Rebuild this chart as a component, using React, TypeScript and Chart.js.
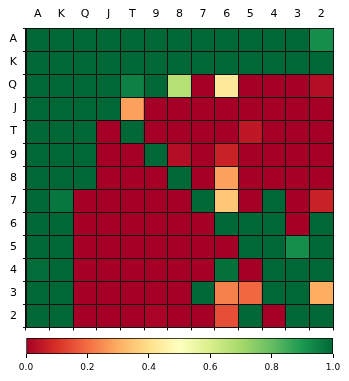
import React, { useEffect, useRef } from "react";
import { Chart, registerables } from "chart.js";

Chart.register(...registerables);

const colLabels = ["A", "K", "Q", "J", "T", "9", "8", "7", "6", "5", "4", "3", "2"];
const rowLabels = ["A", "K", "Q", "J", "T", "9", "8", "7", "6", "5", "4", "3", "2"];

const rowA = [1, 1, 1, 1, 1, 1, 1, 1, 1, 1, 1, 1, 0.92];
const rowK = [1, 1, 1, 1, 1, 1, 1, 1, 1, 1, 1, 1, 1];
const rowQ = [1, 1, 1, 1, 0.95, 1, 0.67, 0, 0.43, 0, 0, 0, 0.03];
const rowJ = [1, 1, 1, 1, 0.28, 0, 0, 0, 0, 0, 0, 0, 0];
const rowT = [1, 1, 1, 0, 1, 0, 0, 0, 0, 0.05, 0, 0, 0];
const row9 = [1, 1, 1, 0, 0, 1, 0.03, 0, 0.07, 0, 0, 0, 0];
const row8 = [1, 1, 1, 0, 0, 0, 1, 0, 0.28, 0, 0, 0, 0];
const row7 = [1, 0.97, 0, 0, 0, 0, 0, 1, 0.35, 0, 1, 0, 0.07];
const row6 = [1, 1, 0, 0, 0, 0, 0, 0, 1, 1, 1, 0, 1];
const row5 = [1, 1, 0, 0, 0, 0, 0, 0, 0, 1, 1, 0.92, 1];
const row4 = [0.99, 1, 0, 0, 0, 0, 0, 0, 0.98, 0, 1, 1, 1];
const row3 = [1, 1, 0, 0, 0, 0, 0, 1, 0.23, 0.19, 1, 1, 0.3];
const row2 = [1, 1, 0, 0, 0, 0.01, 0, 0, 0.15, 1, 0, 1, 1];

const matrix = [rowA, rowK, rowQ, rowJ, rowT, row9, row8, row7, row6, row5, row4, row3, row2];

const colorbarTicks = [0, 0.2, 0.4, 0.6, 0.8, 1.0];

const RDYLGN = [
  "#a50026", "#d73027", "#f46d43", "#fdae61", "#fee08b", "#ffffbf",
  "#d9ef8b", "#a6d96a", "#66bd63", "#1a9850", "#006837",
];

function hexToRgb(h: string) {
  return [parseInt(h.slice(1, 3), 16), parseInt(h.slice(3, 5), 16), parseInt(h.slice(5, 7), 16)];
}

function cmap(v: number) {
  const t = Math.max(0, Math.min(1, v)) * (RDYLGN.length - 1);
  const i = Math.min(Math.floor(t), RDYLGN.length - 2);
  const f = t - i;
  const a = hexToRgb(RDYLGN[i]);
  const b = hexToRgb(RDYLGN[i + 1]);
  const c = a.map((x, k) => Math.round(x + (b[k] - x) * f));
  return `rgb(${c[0]},${c[1]},${c[2]})`;
}

const FONT = "'DejaVu Sans', sans-serif";

export default function App() {
  const heatRef = useRef<HTMLCanvasElement>(null);
  const barRef = useRef<HTMLCanvasElement>(null);

  useEffect(() => {
    const heat = new Chart(heatRef.current!, {
      type: "bar",
      data: {
        labels: colLabels,
        datasets: matrix.map((row, r) => ({
          label: rowLabels[r],
          data: row.map(() => [r, r + 1]) as any,
          backgroundColor: row.map((v) => cmap(v)),
          borderWidth: 0,
          grouped: false,
          barPercentage: 1,
          categoryPercentage: 1,
          xAxisID: "x",
          yAxisID: "y",
        })),
      },
      options: {
        responsive: false,
        animation: false,
        devicePixelRatio: 1,
        layout: { padding: { left: 0, right: 16, top: 0, bottom: 0 } },
        plugins: { legend: { display: false }, tooltip: { enabled: false } },
        scales: {
          x: {
            type: "category",
            position: "top",
            offset: true,
            grid: { offset: true, color: "#111", lineWidth: 1, drawTicks: false, z: 1 },
            border: { display: true, color: "#111", z: 1 },
            ticks: { color: "#000", font: { family: FONT, size: 11 }, padding: 7, maxRotation: 0 },
            afterFit: (s: any) => { s.height = 28; },
          },
          x2: {
            type: "category",
            labels: colLabels,
            position: "bottom",
            offset: true,
            grid: { offset: true, drawOnChartArea: false, color: "#000", tickLength: 3, z: 1 },
            border: { display: true, color: "#111", z: 1 },
            ticks: { display: false },
            afterFit: (s: any) => { s.height = 5; },
          },
          y: {
            type: "linear",
            min: 0,
            max: 13,
            reverse: true,
            display: false,
          },
          yl: {
            type: "category",
            labels: rowLabels,
            position: "left",
            offset: true,
            grid: { offset: true, color: "#111", lineWidth: 1, tickLength: 3, z: 1 },
            border: { display: true, color: "#111", z: 1 },
            ticks: { color: "#000", font: { family: FONT, size: 11 }, padding: 6 },
            afterFit: (s: any) => { s.width = 26; },
          },
        } as any,
      },
    });

    const bar = new Chart(barRef.current!, {
      type: "bar",
      data: {
        labels: ["colorbar"],
        datasets: [
          {
            data: [[0, 1]] as any,
            backgroundColor: (c: any) => {
              const { ctx, chartArea } = c.chart;
              if (!chartArea) return "#888";
              const g = ctx.createLinearGradient(chartArea.left, 0, chartArea.right, 0);
              RDYLGN.forEach((col, i) => g.addColorStop(i / (RDYLGN.length - 1), col));
              return g;
            },
            borderColor: "#000",
            borderWidth: 1,
            borderSkipped: false,
            barPercentage: 1,
            categoryPercentage: 1,
          },
        ],
      },
      options: {
        indexAxis: "y",
        responsive: false,
        animation: false,
        devicePixelRatio: 1,
        layout: { padding: { left: 26, right: 16, top: 8, bottom: 0 } },
        plugins: { legend: { display: false }, tooltip: { enabled: false } },
        scales: {
          x: {
            type: "linear",
            min: 0,
            max: 1,
            position: "bottom",
            afterBuildTicks: (s: any) => { s.ticks = colorbarTicks.map((v) => ({ value: v })); },
            grid: { drawOnChartArea: false, color: "#000", tickLength: 4 },
            border: { display: false },
            ticks: {
              color: "#000",
              font: { family: FONT, size: 9 },
              padding: 4,
              maxRotation: 0,
              callback: (v: any) => Number(v).toFixed(1),
            },
            afterFit: (s: any) => { s.height = 27; },
          },
          y: { type: "category", display: false },
        } as any,
      },
    });

    return () => {
      heat.destroy();
      bar.destroy();
    };
  }, []);

  return (
    <div style={{ position: "absolute", left: 0, top: 0, width: 349, height: 381, background: "#fff", overflow: "hidden" }}>
      <canvas ref={heatRef} width={349} height={340} style={{ position: "absolute", left: 0, top: 0, width: 349, height: 340 }} />
      <canvas ref={barRef} width={349} height={51} style={{ position: "absolute", left: 0, top: 330, width: 349, height: 51 }} />
    </div>
  );
}
